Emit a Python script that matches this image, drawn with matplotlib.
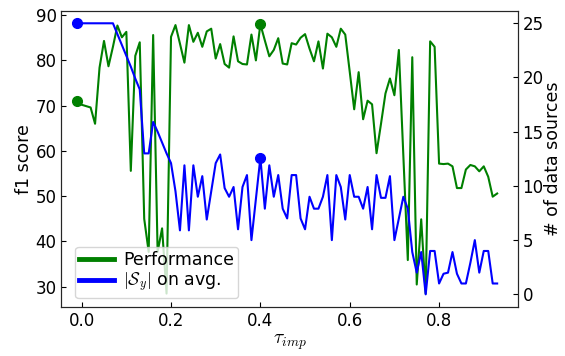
import numpy as np
import matplotlib
matplotlib.use("Agg")
import matplotlib.pyplot as plt

plt.rcParams["mathtext.fontset"] = "cm"
plt.rcParams["font.size"] = 12.5

# threshold grid tau_imp (-0.01 ... 0.93)
tau = np.round(np.arange(-0.01, 0.935, 0.01), 2)

# f1 score (left axis)
performance = [
    71.1, 70.2, 69.9, 69.6, 66.0, 78.4, 84.3, 78.7, 83.0, 87.7,
    85.1, 86.3, 55.6, 81.0, 84.0, 45.0, 37.7, 85.6, 37.7, 42.9,
    28.5, 85.2, 87.8, 83.7, 79.5, 87.8, 84.1, 86.1, 83.0, 86.4,
    87.0, 80.4, 83.6, 79.2, 78.4, 85.3, 79.8, 79.2, 79.1, 85.7,
    80.0, 88.0, 84.4, 80.9, 82.3, 84.9, 79.3, 79.1, 83.8, 83.5,
    85.0, 85.8, 82.6, 79.8, 84.2, 78.2, 85.9, 85.1, 83.0, 87.0,
    85.7, 77.5, 69.2, 77.4, 67.0, 71.1, 70.3, 59.5, 66.0, 72.7,
    76.0, 72.3, 82.3, 59.0, 35.9, 80.7, 30.5, 44.9, 28.5, 84.2,
    83.0, 57.2, 57.1, 57.2, 56.6, 51.8, 51.8, 55.9, 56.9, 56.6,
    55.5, 56.6, 54.3, 49.9, 50.6,
]

# average number of data sources (right axis)
n_sources = [
    25.0, 25.0, 25.0, 25.0, 25.0, 25.0, 25.0, 25.0, 25.0, 24.0,
    23.0, 22.0, 21.0, 19.9, 18.9, 13.0, 13.0, 15.9, 15.0, 14.0,
    13.0, 12.1, 9.5, 5.9, 11.9, 5.9, 11.9, 9.0, 10.9, 6.9,
    9.5, 12.1, 12.9, 9.8, 9.0, 9.9, 6.0, 9.9, 11.0, 5.0,
    8.8, 12.6, 7.9, 11.9, 9.0, 11.0, 7.9, 7.0, 11.0, 11.0,
    7.0, 6.0, 9.0, 7.9, 7.9, 9.0, 11.0, 5.0, 11.0, 9.9,
    6.9, 11.0, 9.0, 9.0, 7.9, 9.9, 6.0, 11.0, 8.9, 8.9,
    10.9, 5.0, 7.0, 9.0, 7.9, 3.9, 2.0, 3.9, 0.0, 4.0,
    4.0, 1.0, 1.9, 2.0, 3.9, 1.9, 1.0, 1.0, 2.9, 5.0,
    2.0, 4.0, 4.0, 1.0, 1.0,
]

# highlighted points (first threshold and tau = 0.40)
highlight = [0, 41]

fig, ax = plt.subplots(figsize=(5.65, 3.56), dpi=100)
fig.subplots_adjust(left=0.1088, right=0.9163, bottom=0.1385, top=0.969)
ax2 = ax.twinx()

ax.plot(tau, performance, color="green", lw=1.5, marker="o", ms=7,
        markevery=highlight, label="Performance")
ax2.plot(tau, n_sources, color="blue", lw=1.5, marker="o", ms=7,
         markevery=highlight, label=r"$|\mathcal{S}_y|$ on avg.")

ax.set_xlim(-0.0452, 0.976)
ax.set_ylim(25.6, 90.9)
ax2.set_ylim(-1.14, 26.13)
ax.set_xticks([0.0, 0.2, 0.4, 0.6, 0.8])
ax.set_yticks([30, 40, 50, 60, 70, 80, 90])
ax2.set_yticks([0, 5, 10, 15, 20, 25])

ax.set_xlabel(r"$\tau_{imp}$", fontsize=14, labelpad=2)
ax.set_ylabel("f1 score", labelpad=2)
ax2.set_ylabel("# of data sources", labelpad=0.5)

for a in (ax, ax2):
    a.tick_params(direction="in", length=3.5, labelsize=12)
    for s in a.spines.values():
        s.set_color("0.15")

h1, l1 = ax.get_legend_handles_labels()
h2, l2 = ax2.get_legend_handles_labels()
leg = ax2.legend(h1 + h2, l1 + l2, loc="lower left",
                 bbox_to_anchor=(0.03, 0.028), borderaxespad=0,
                 labelspacing=0.1, borderpad=0.25, handletextpad=0.5,
                 fontsize=12.5)
for line in leg.get_lines():
    line.set_linewidth(3.5)
    line.set_marker("")

plt.savefig("out.png", dpi=100)
